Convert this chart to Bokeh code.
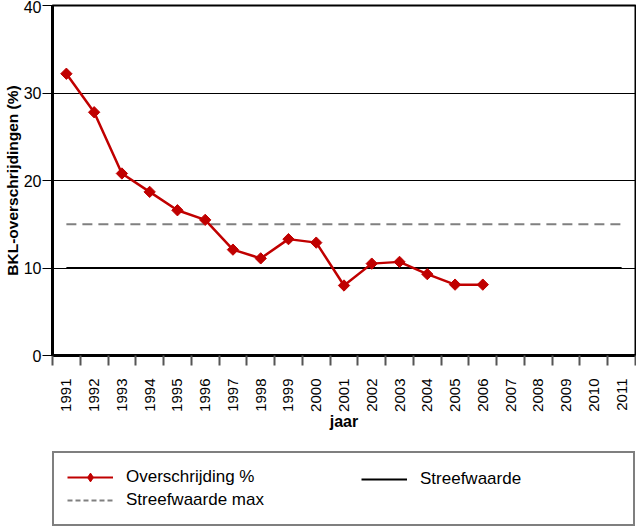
from bokeh.plotting import figure
from bokeh.models import Range1d, FixedTicker, Legend, LegendItem
from bokeh.layouts import column
from bokeh.embed import file_html
from bokeh.resources import INLINE
import math

years = [1991, 1992, 1993, 1994, 1995, 1996, 1997, 1998, 1999, 2000,
         2001, 2002, 2003, 2004, 2005, 2006]
overschrijding = [32.2, 27.8, 20.8, 18.7, 16.6, 15.5, 12.1, 11.1, 13.3, 12.9,
                  8.0, 10.5, 10.7, 9.3, 8.1, 8.1]
target_years = [1991, 2011]
streefwaarde = [10, 10]
streefwaarde_max = [15, 15]
axis_years = list(range(1991, 2012))
y_ticks = [0, 10, 20, 30, 40]
legend_labels = ["Overschrijding %", "Streefwaarde", "Streefwaarde max"]

FONT = "Liberation Sans"
RED = "#c00000"
GREY = "#808080"

p = figure(width=636, height=440, output_backend="svg", toolbar_location=None,
           x_range=Range1d(axis_years[0] - 0.5, axis_years[-1] + 0.5),
           y_range=Range1d(0, 40),
           min_border_left=52, min_border_top=5, min_border_right=1,
           min_border_bottom=85)
p.outline_line_color = "black"
p.outline_line_width = 2
p.background_fill_color = "white"
p.border_fill_color = "white"

p.xgrid.visible = False
p.ygrid.grid_line_color = "black"
p.ygrid.grid_line_width = 1
p.ygrid.ticker = FixedTicker(ticks=y_ticks)

xa = p.xaxis[0]
xa.ticker = FixedTicker(ticks=axis_years,
                        minor_ticks=[y - 0.5 for y in axis_years] + [axis_years[-1] + 0.5])
xa.major_tick_out = 0
xa.major_tick_in = 0
xa.minor_tick_out = 10
xa.minor_tick_in = 0
xa.minor_tick_line_color = "#555555"
xa.minor_tick_line_width = 2
xa.axis_line_width = 3
xa.axis_line_color = "black"
xa.major_label_orientation = math.pi / 2
xa.major_label_text_font = FONT
xa.major_label_text_font_size = "15px"
xa.major_label_text_color = "black"
xa.major_label_standoff = 13
xa.axis_label = "jaar"
xa.axis_label_text_font = FONT
xa.axis_label_text_font_style = "bold"
xa.axis_label_text_font_size = "16px"
xa.axis_label_text_color = "black"
xa.axis_label_standoff = -2

ya = p.yaxis[0]
ya.ticker = FixedTicker(ticks=y_ticks)
ya.minor_tick_out = 0
ya.minor_tick_in = 0
ya.major_tick_out = 10
ya.major_tick_in = 0
ya.major_tick_line_color = "black"
ya.axis_line_width = 3
ya.axis_line_color = "black"
ya.major_label_text_font = FONT
ya.major_label_text_font_size = "16px"
ya.major_label_text_color = "black"
ya.major_label_standoff = 1
ya.axis_label = "BKL-overschrijdingen (%)"
ya.axis_label_text_font = FONT
ya.axis_label_text_font_style = "bold"
ya.axis_label_text_font_size = "15.5px"
ya.axis_label_text_color = "black"
ya.axis_label_standoff = 0

p.line(target_years, streefwaarde_max, line_color=GREY, line_width=2, line_dash="10 6")
p.line(target_years, streefwaarde, line_color="black", line_width=2)
p.line(years, overschrijding, line_color=RED, line_width=2.5)
p.scatter(years, overschrijding, marker="square", angle=math.pi / 4, size=8,
          fill_color=RED, line_color=RED, line_width=1)

# legend panel (proxies use the same data but lie outside this panel's ranges)
q = figure(width=636, height=87, output_backend="svg", toolbar_location=None,
           x_axis_location=None, y_axis_location=None,
           x_range=Range1d(0, 1), y_range=Range1d(0, 1),
           min_border=0)
q.outline_line_color = None
q.xgrid.visible = False
q.ygrid.visible = False
q.border_fill_color = "white"
lr_line = q.line(years, overschrijding, line_color=RED, line_width=2)
lr_pts = q.scatter(years, overschrijding, marker="diamond", size=11,
                   fill_color=RED, line_color=RED)
lr_sw = q.line(target_years, streefwaarde, line_color="black", line_width=2)
lr_max = q.line(target_years, streefwaarde_max, line_color=GREY, line_width=2,
                line_dash="5 3")


def style(lg, pad):
    lg.label_text_font = FONT
    lg.label_text_font_size = "17px"
    lg.label_text_color = "black"
    lg.glyph_width = 46
    lg.glyph_height = 22
    lg.label_height = 22
    lg.label_standoff = 13
    lg.spacing = 1
    lg.padding = pad
    lg.margin = 0


legend_a = Legend(items=[
    LegendItem(label=legend_labels[0], renderers=[lr_line, lr_pts]),
    LegendItem(label=legend_labels[2], renderers=[lr_max]),
], location=(0, 1))
style(legend_a, 13)
legend_a.label_width = 494
legend_a.border_line_color = "black"
legend_a.border_line_width = 2
legend_a.background_fill_color = "white"

legend_b = Legend(items=[
    LegendItem(label=legend_labels[1], renderers=[lr_sw]),
], location=(309, 37))
style(legend_b, 0)
legend_b.border_line_color = None
legend_b.background_fill_alpha = 0

q.add_layout(legend_a, "center")
q.add_layout(legend_b, "center")

open("out.html", "w").write(file_html(column(p, q, spacing=0), INLINE))
